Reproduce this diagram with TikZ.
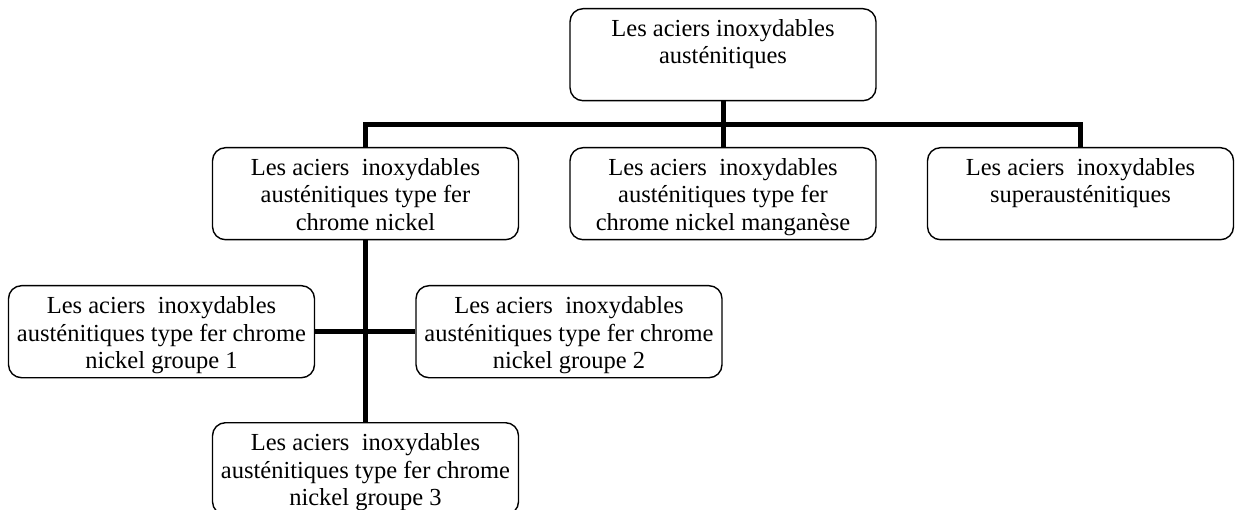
\documentclass[tikz,border=0pt]{standalone}
\usepackage{fontspec}
\setmainfont{Liberation Serif}
\usetikzlibrary{positioning}

% text of a box, set from the top
\newcommand{\boxtext}[1]{\parbox[c][92pt][t]{306pt}{\centering\rule{0pt}{28pt}#1}}

\begin{document}
\begin{tikzpicture}[
    x=1pt, y=-1pt,
    every node/.style={font={\fontsize{24.5}{27.3}\selectfont}},
    steelbox/.style={rectangle, draw, rounded corners=13pt, line width=1.4pt, inner sep=0pt, anchor=north},
    link/.style={line width=5pt, line join=miter}
]
\useasboundingbox (0,0) rectangle (1238,510);

% Root
\node[steelbox] (root) at (723,8) {\boxtext{Les aciers inoxydables\\austénitiques}};

% Second level
\node[steelbox] (cfn) at (365.5,147) {\boxtext{Les aciers\ \ inoxydables\\austénitiques type fer\\chrome nickel}};
\node[steelbox] (cfnm) at (723,147) {\boxtext{Les aciers\ \ inoxydables\\austénitiques type fer\\chrome nickel manganèse}};
\node[steelbox] (super) at (1080.5,147) {\boxtext{Les aciers\ \ inoxydables\\superausténitiques}};

% Groups of the chrome nickel steels
\node[steelbox] (g1) at (161.5,285) {\boxtext{Les aciers\ \ inoxydables\\austénitiques type fer chrome\\nickel groupe 1}};
\node[steelbox] (g2) at (569,285) {\boxtext{Les aciers\ \ inoxydables\\austénitiques type fer chrome\\nickel groupe 2}};
\node[steelbox] (g3) at (365.5,422) {\boxtext{Les aciers\ \ inoxydables\\austénitiques type fer chrome\\nickel groupe 3}};

% Bus line under the root
\coordinate (bus) at (0,125);

% Connectors
\draw[link] (root.south) -- (root.south |- bus);
\draw[link] (cfn.north) -- (cfn.north |- bus) -- (super.north |- bus) -- (super.north);
\draw[link] (cfnm.north) -- (cfnm.north |- bus);
\draw[link] (cfn.south) -- (g3.north);
\draw[link] (g1.east) -- (g2.west);

\end{tikzpicture}
\end{document}
